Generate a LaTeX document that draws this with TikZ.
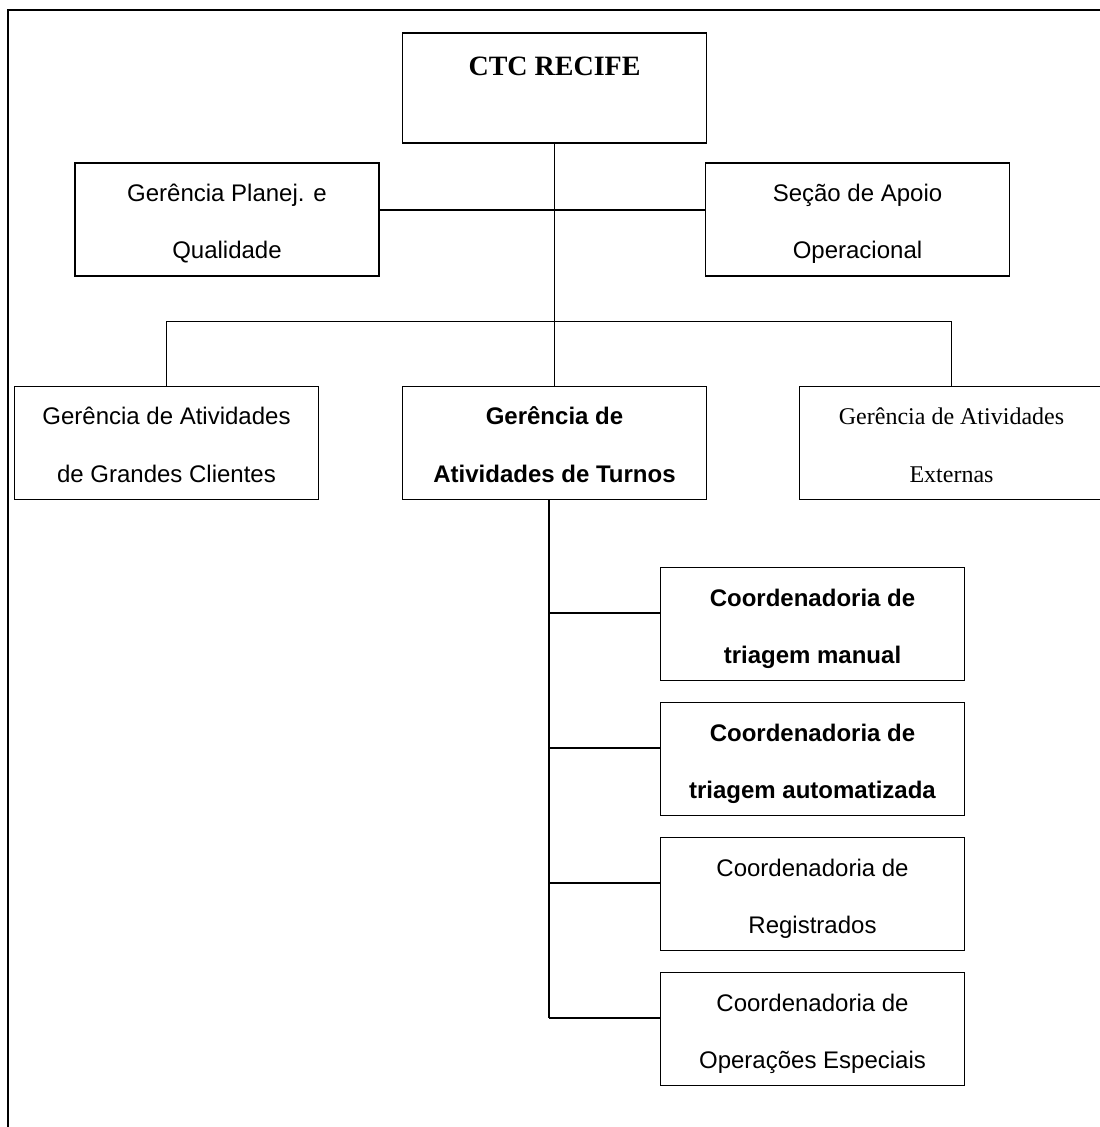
\documentclass[tikz,border=0pt]{standalone}
\usepackage{fontspec}
\setmainfont{Liberation Serif}
\setsansfont{Liberation Sans}
\usetikzlibrary{positioning}

\begin{document}
\begin{tikzpicture}[on grid,
  unit/.style={draw,line width=0.85pt,minimum width=152pt,minimum height=56.5pt,inner sep=0pt,align=center,text height=42pt,text depth=3pt,font=\sffamily\fontsize{12}{28.5}\selectfont},
  strong/.style={font=\sffamily\bfseries\fontsize{12}{28.5}\selectfont},
  link/.style={line width=0.7pt}]
  \useasboundingbox (-277.25pt,44pt) rectangle (272.25pt,-519.5pt);
  \draw[line width=1pt] (-273.25pt,39pt) rectangle (300pt,-560pt);
  \node[unit,minimum height=55pt,font=\rmfamily\bfseries\fontsize{14}{16}\selectfont,text height=10pt,text depth=22pt] (Ctc) at (0,0) {CTC RECIFE};
  \node[unit]          (Planej)   [below left =65.75pt and 163.75pt of Ctc] {Gerência Planej. e\\Qualidade};
  \node[unit]          (Apoio)    [below right=65.75pt and 151.5pt of Ctc]  {Seção de Apoio\\Operacional};
  \node[unit,strong]   (Turnos)   [below=177.5pt of Ctc]                    {Gerência de\\Atividades de Turnos};
  \node[unit]          (Grandes)  [left=194pt of Turnos]                    {Gerência de Atividades\\de Grandes Clientes};
  \node[unit,font=\rmfamily\fontsize{12}{28.5}\selectfont] (Externas) [right=198.5pt of Turnos] {Gerência de Atividades\\Externas};
  \node[unit,strong]   (Coord1)   [below right=90.5pt and 129pt of Turnos]  {Coordenadoria de\\triagem manual};
  \node[unit,strong]   (Coord2)   [below=67.5pt of Coord1]                  {Coordenadoria de\\triagem automatizada};
  \node[unit]          (Coord3)   [below=67.5pt of Coord2]                  {Coordenadoria de\\Registrados};
  \node[unit]          (Coord4)   [below=67.5pt of Coord3]                  {Coordenadoria de\\Operações Especiais};
  \coordinate (Bar) at ([yshift=32pt]Turnos.north);
  \coordinate (Spine) at ([xshift=-2.75pt]Turnos.south);
  \draw[link,line width=0.6pt] (Ctc.south) -- (Turnos.north);
  \draw[link] ([yshift=4.75pt]Planej.east) -- ([yshift=4.75pt]Apoio.west);
  \draw[link] (Grandes.north) |- (Bar) -| (Externas.north);
  \draw[link] (Spine) -- ([yshift=5.5pt]Spine |- Coord4.west);
  \foreach \k in {1,...,4}
    \draw[link] ([yshift=5.5pt]Spine |- Coord\k.west) -- ([yshift=5.5pt]Coord\k.west);
\end{tikzpicture}
\end{document}
